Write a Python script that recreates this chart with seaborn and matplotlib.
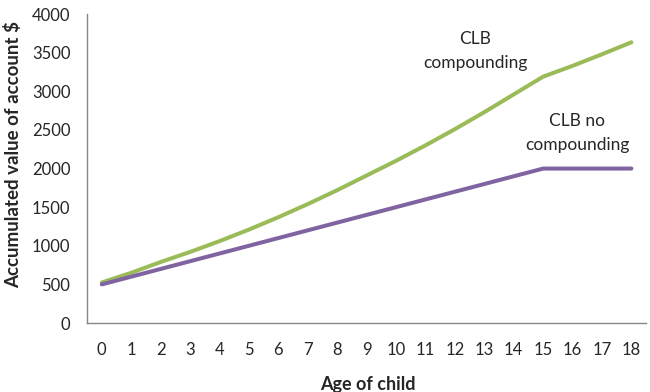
import pandas as pd
import matplotlib
matplotlib.use("Agg")
import matplotlib.pyplot as plt
import seaborn as sns

# values
ages = list(range(19))
compounding = [525, 650, 790, 920, 1060, 1210, 1370, 1540, 1720, 1910,
               2100, 2300, 2510, 2730, 2960, 3190, 3330, 3480, 3635]
no_compounding = [500, 600, 700, 800, 900, 1000, 1100, 1200, 1300, 1400,
                  1500, 1600, 1700, 1800, 1900, 2000, 2000, 2000, 2000]
y_ticks = [0, 500, 1000, 1500, 2000, 2500, 3000, 3500, 4000]

df = pd.DataFrame({
    "age": ages * 2,
    "value": compounding + no_compounding,
    "series": ["CLB compounding"] * len(ages) + ["CLB no compounding"] * len(ages),
})

sns.set_style("white")
plt.rcParams["font.family"] = ["Lato", "DejaVu Sans"]

fig = plt.figure(figsize=(6.5, 3.92), dpi=100)
ax = fig.add_axes([0.134, 0.176, 0.86, 0.788])

sns.lineplot(data=df, x="age", y="value", hue="series",
             palette=["#9BBB59", "#8064A2"], linewidth=2.9,
             legend=False, ax=ax)

ax.set_xlim(-0.5, 18.5)
ax.set_ylim(0, 4000)
ax.set_xticks(ages)
ax.set_yticks(y_ticks)
ax.tick_params(axis="x", length=0, pad=14, labelsize=12)
ax.tick_params(axis="y", length=0, pad=12, labelsize=12)

for side in ["top", "right"]:
    ax.spines[side].set_visible(False)
for side in ["left", "bottom"]:
    ax.spines[side].set_color("#868686")
    ax.spines[side].set_linewidth(1)

ax.set_xlabel("Age of child", fontsize=13, fontweight="bold")
ax.set_ylabel("Accumulated value of account $", fontsize=13.5, fontweight="bold")
ax.xaxis.set_label_coords(0.502, -0.172)
ax.yaxis.set_label_coords(-0.117, 0.547)

ax.text(12.69, 3521, "CLB\ncompounding", ha="center", va="center",
        fontsize=12.5, linespacing=1.6)
ax.text(16.16, 2460, "CLB no\ncompounding", ha="center", va="center",
        fontsize=12.5, linespacing=1.6)

fig.savefig("out.png", dpi=100)
